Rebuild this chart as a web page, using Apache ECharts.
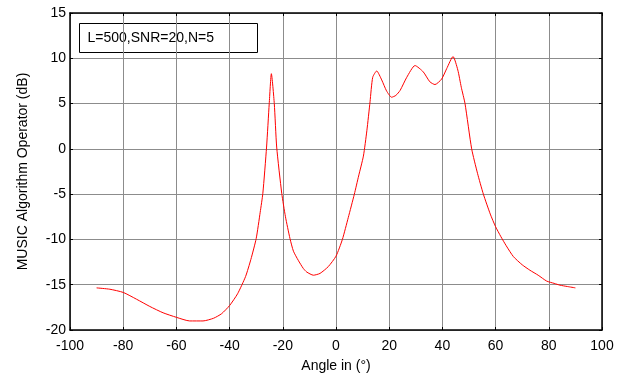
<!DOCTYPE html>
<html>
<head>
<meta charset="utf-8">
<script src="https://cdn.jsdelivr.net/npm/echarts@6/dist/echarts.min.js"></script>
<style>
  html, body { margin: 0; padding: 0; background: #fff; }
  #chart { width: 625px; height: 378px; }
</style>
</head>
<body>
<div id="chart"></div>
<script>
// MUSIC spectrum
const angles = [
  -90, -85, -80, -75, -70, -65, -60, -55, -50, -46, -43, -40, -37, -34, -32, -30,
  -28.5, -27.5, -26.1, -25.1, -24.3, -23.2, -22.3, -20.4, -19, -17.3, -16, -14.2,
  -12.3, -11, -8.5, -6, -2.9, 0, 2.4, 4.6, 6.9, 8.5, 10.3, 11.6, 12.8, 13.8, 15.3,
  17.2, 19, 20.9, 22.5, 24.1, 26.6, 29.7, 32.8, 35.3, 37.2, 39.7, 41.6, 44, 45.8,
  47.1, 48.5, 51, 53.2, 55.4, 58, 60, 62, 64, 66.7, 70, 72.9, 76, 79.2, 82, 84.2, 87, 90
];
const musicDb = [
  -15.35, -15.5, -15.85, -16.6, -17.4, -18.1, -18.6, -19.0, -19.0, -18.7, -18.2, -17.3, -16.0, -14.1, -12.2, -9.9,
  -7.0, -4.9, 0.2, 5.0, 8.3, 5.0, 0.2, -4.9, -7.5, -9.9, -11.3, -12.3,
  -13.2, -13.6, -13.95, -13.75, -13.0, -11.85, -10.0, -7.6, -5.0, -3.0, -0.8, 2.0, 5.2, 7.9, 8.6,
  7.6, 6.4, 5.7, 5.9, 6.45, 7.9, 9.2, 8.5, 7.4, 7.1, 7.7, 8.85, 10.2, 8.7,
  6.8, 5.0, 0.0, -2.7, -5.0, -7.2, -8.6, -9.7, -10.7, -11.9, -12.8, -13.4, -13.95, -14.6, -14.85, -15.05, -15.2, -15.35
];
const legendText = "L=500,SNR=20,N=5";

const chart = echarts.init(document.getElementById("chart"), null, { renderer: "canvas" });

const font = "Liberation Sans";
const gridLine = { show: true, lineStyle: { color: "#8c8c8c", width: 1, type: "solid" } };
const boxLine = { show: true, onZero: false, lineStyle: { color: "#000", width: 1.5 } };
const inTick = { show: true, inside: true, length: 3, lineStyle: { color: "#000" } };

const option = {
  backgroundColor: "#fff",
  animation: false,
  grid: { left: 70, right: 23, top: 13, bottom: 48 },
  xAxis: [
    {
      type: "value", min: -100, max: 100, interval: 20, position: "bottom",
      axisLine: boxLine, axisTick: inTick, splitLine: gridLine,
      axisLabel: { color: "#000", fontFamily: font, fontSize: 14, margin: 9 },
      name: "Angle in (°)", nameLocation: "middle", nameGap: 29,
      nameTextStyle: { color: "#000", fontFamily: font, fontSize: 14 }
    },
    {
      type: "value", min: -100, max: 100, interval: 20, position: "top",
      axisLine: boxLine, axisTick: inTick, splitLine: { show: false },
      axisLabel: { show: false }
    }
  ],
  yAxis: [
    {
      type: "value", min: -20, max: 15, interval: 5, position: "left",
      axisLine: boxLine, axisTick: inTick, splitLine: gridLine,
      axisLabel: { color: "#000", fontFamily: font, fontSize: 14, margin: 4 },
      name: "MUSIC Algorithm Operator (dB)", nameLocation: "middle", nameGap: 40,
      nameTextStyle: { color: "#000", fontFamily: font, fontSize: 14 }
    },
    {
      type: "value", min: -20, max: 15, interval: 5, position: "right",
      axisLine: boxLine, axisTick: inTick, splitLine: { show: false },
      axisLabel: { show: false }
    }
  ],
  graphic: [
    {
      type: "group", left: 79, top: 23,
      children: [
        { type: "rect", shape: { x: 0, y: 0, width: 178, height: 29 },
          style: { fill: "#fff", stroke: "#000", lineWidth: 1 } },
        { type: "text", x: 8, y: 15,
          style: { text: legendText, fill: "#000", font: "14px " + font, verticalAlign: "middle" } }
      ]
    }
  ],
  series: [
    {
      type: "line",
      data: angles.map((a, i) => [a, musicDb[i]]),
      smooth: 0.2,
      showSymbol: false,
      lineStyle: { color: "#ff0000", width: 1 },
      xAxisIndex: 0, yAxisIndex: 0
    }
  ]
};

chart.setOption(option);
</script>
</body>
</html>
